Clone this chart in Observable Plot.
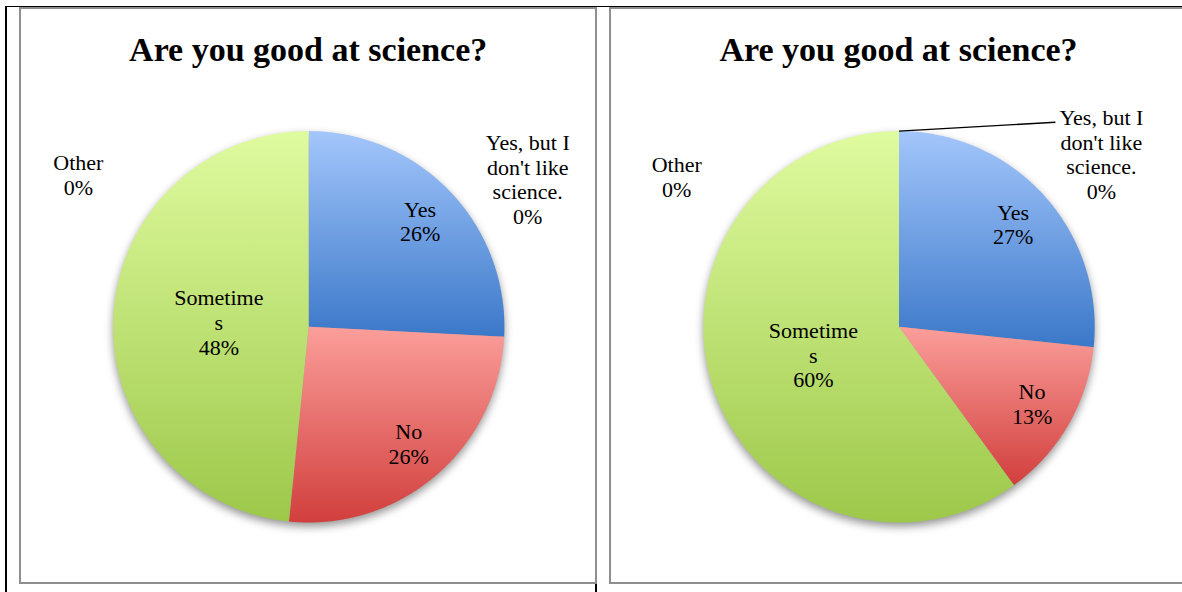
<!DOCTYPE html>
<html><head><meta charset="utf-8">
<script src="https://cdn.jsdelivr.net/npm/d3@7"></script>
<script src="https://cdn.jsdelivr.net/npm/@observablehq/plot@0.6"></script>
<style>
html,body{margin:0;padding:0;background:#fff;}
#page{position:relative;width:1182px;height:592px;overflow:hidden;background:#fff;}
.bl{position:absolute;background:#000;}
.box{position:absolute;box-sizing:border-box;border:2px solid #8e8e8e;background:#fff;overflow:hidden;}
.title{position:absolute;font-family:"Liberation Serif",serif;font-weight:bold;font-size:34px;line-height:34px;text-align:center;white-space:nowrap;color:#000;}
.box svg{position:absolute;left:0;top:0;}
</style></head><body>
<svg width="0" height="0" style="position:absolute;left:0;top:0">
<defs>
 <linearGradient id="gYes" x1="0" y1="0" x2="0" y2="1"><stop offset="0" stop-color="#a3c6fb"/><stop offset="1" stop-color="#3b78c9"/></linearGradient>
 <linearGradient id="gNo" x1="0" y1="0" x2="0" y2="1"><stop offset="0" stop-color="#fb9e9a"/><stop offset="1" stop-color="#d13f3d"/></linearGradient>
 <linearGradient id="gSometimes" x1="0" y1="0" x2="0" y2="1"><stop offset="0" stop-color="#dffb9f"/><stop offset="1" stop-color="#9dc84a"/></linearGradient>
 <filter id="pieShadow" x="-20%" y="-20%" width="140%" height="140%"><feGaussianBlur stdDeviation="4"/></filter>
</defs></svg>
<div id="page">
 <div class="bl" style="left:5px;top:5.5px;width:1177px;height:1.5px"></div>
 <div class="bl" style="left:4.5px;top:5.5px;width:2px;height:587px"></div>
 <div class="bl" style="left:595px;top:5.5px;width:2px;height:587px"></div>
 <div class="box" id="box0" style="left:19px;top:7px;width:578px;height:577px"></div>
 <div class="box" id="box1" style="left:609px;top:7px;width:578px;height:577px"></div>
</div>
<script>
// ---- data ----
const categories = ["Yes, but I don't like science.", "Yes", "No", "Sometimes", "Other"];
const labelLines = ["Yes, but I\ndon't like\nscience.", "Yes", "No", "Sometime\ns", "Other"];
const chart1Counts = [0, 8, 8, 15, 0];
const chart2Counts = [0, 8, 4, 18, 0];
const chartTitles = ["Are you good at science?", "Are you good at science?"];

// ---- styles / layout ----
const sliceFill = {"Yes": "url(#gYes)", "No": "url(#gNo)", "Sometimes": "url(#gSometimes)"};
const W = 574, H = 573, CX = [287.2, 287.5], CY = 317.3, R = 195.7;
const outside = [
  {"Yes, but I don't like science.": {angle: 56, radius: 1.35}, "Other": {angle: -56.6, radius: 1.41}},
  {"Yes, but I don't like science.": {angle: 49.5, radius: 1.36, leader: [-0.235, 0.162]}, "Other": {angle: -56, radius: 1.37}}
];
const FONT = "Liberation Serif";

function drawChart(idx, counts) {
  const total = d3.sum(counts);
  const rows = categories.map((c, i) => ({category: c, label: labelLines[i], value: counts[i]}));
  const arcs = d3.pie().sort(null).value(d => d.value).startAngle(0).endAngle(2 * Math.PI)(rows);
  const toXY = a => [Math.sin(a), Math.cos(a)];
  const marks = [];
  // shadow
  const circle = d3.range(0, 361, 1).map(deg => { const [x, y] = toXY(deg * Math.PI / 180); return {x, y}; });
  marks.push(Plot.line(circle, {x: "x", y: "y", fill: "#000", fillOpacity: 0.42, stroke: "none", dy: 4, ariaDescription: "pie-shadow"}));
  // slices
  const labels = [];
  const leaders = [];
  arcs.forEach(a => {
    const d = a.data;
    const share = d.value / total;
    const text = d.label + "\n" + Math.round(share * 100) + "%";
    if (d.value > 0) {
      const n = Math.max(2, Math.ceil((a.endAngle - a.startAngle) / (Math.PI / 360)));
      const pts = [{x: 0, y: 0}];
      for (let k = 0; k <= n; k++) {
        const t = a.startAngle + (a.endAngle - a.startAngle) * k / n;
        const [x, y] = toXY(t); pts.push({x, y});
      }
      pts.push({x: 0, y: 0});
      marks.push(Plot.line(pts, {x: "x", y: "y", fill: sliceFill[d.category], stroke: "none"}));
      const mid = (a.startAngle + a.endAngle) / 2;
      const rr = share > 0.4 ? 0.46 : 0.785;
      const [x, y] = toXY(mid);
      labels.push({x: x * rr, y: y * rr, text});
    } else {
      const o = outside[idx][d.category];
      const [x, y] = toXY(o.angle * Math.PI / 180);
      const lx = x * o.radius, ly = y * o.radius;
      labels.push({x: lx, y: ly, text});
      if (o.leader) {
        const [px, py] = toXY(a.startAngle);
        leaders.push({x1: px, y1: py, x2: lx + o.leader[0], y2: ly + o.leader[1]});
      }
    }
  });
  marks.push(Plot.link(leaders, {x1: "x1", y1: "y1", x2: "x2", y2: "y2", stroke: "#000", strokeWidth: 1.3}));
  marks.push(Plot.text(labels, {x: "x", y: "y", text: "text", fontSize: 22, lineHeight: 1.12, fontFamily: FONT, fill: "#000", textAnchor: "middle"}));

  const svg = Plot.plot({
    width: W, height: H, margin: 0,
    x: {domain: [-1, 1], range: [CX[idx] - R, CX[idx] + R], axis: null},
    y: {domain: [-1, 1], range: [CY + R, CY - R], axis: null},
    style: {background: "transparent", fontFamily: FONT, overflow: "visible", maxWidth: "none"},
    marks
  });
  svg.querySelectorAll('[aria-description="pie-shadow"]').forEach(g => g.setAttribute("filter", "url(#pieShadow)"));
  const box = document.getElementById("box" + idx);
  const title = document.createElement("div");
  title.className = "title";
  title.textContent = chartTitles[idx];
  title.style.left = "0px";
  title.style.width = (2 * CX[idx]) + "px";
  title.style.top = "23.5px";
  box.appendChild(svg);
  box.appendChild(title);
}
drawChart(0, chart1Counts);
drawChart(1, chart2Counts);
</script>
</body></html>
